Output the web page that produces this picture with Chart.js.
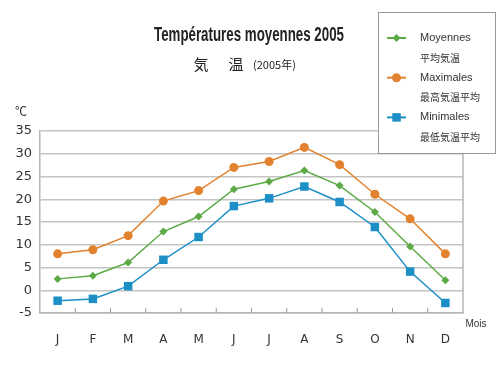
<!DOCTYPE html>
<html>
<head>
<meta charset="utf-8">
<script src="https://cdn.jsdelivr.net/npm/chart.js@4"></script>
<style>
  html, body { margin: 0; padding: 0; background: #fff; }
  #wrap { width: 500px; height: 368px; position: relative; }
</style>
</head>
<body>
<div id="wrap"><canvas id="tempChart"></canvas></div>
<script>
// données
const months = ["J", "F", "M", "A", "M", "J", "J", "A", "S", "O", "N", "D"];
const moyennes = [2.5, 3.2, 6.1, 12.9, 16.2, 22.2, 23.9, 26.3, 23.0, 17.2, 9.6, 2.2];
const maximales = [8.0, 8.9, 12.0, 19.6, 21.9, 27.0, 28.3, 31.4, 27.6, 21.1, 15.7, 8.0];
const minimales = [-2.3, -1.9, 0.9, 6.7, 11.7, 18.5, 20.2, 22.8, 19.4, 13.9, 4.1, -2.8];
const legendNames = [["Moyennes", "平均気温"], ["Maximales", "最高気温平均"], ["Minimales", "最低気温平均"]];

const GREEN = "#5caa46";
const ORANGE = "#e3822e";
const BLUE = "#1b8fc6";

// titres, légende, cadre
const decorPlugin = {
    id: "decor",
    afterDraw(chart) {
        const ctx = chart.ctx;
        const area = chart.chartArea;
        const x = chart.scales.x;
        ctx.save();

        // cadre droit + petits traits entre les mois
        ctx.strokeStyle = "#b5b5b5";
        ctx.lineWidth = 1.5;
        ctx.beginPath();
        ctx.moveTo(area.right, area.top);
        ctx.lineTo(area.right, area.bottom);
        ctx.stroke();
        ctx.lineWidth = 1;
        ctx.strokeStyle = "#999";
        for (let i = 0; i < months.length - 1; i++) {
            let px = (x.getPixelForValue(i) + x.getPixelForValue(i + 1)) / 2;
            ctx.beginPath();
            ctx.moveTo(px, area.bottom);
            ctx.lineTo(px, area.bottom - 5);
            ctx.stroke();
        }

        // titre
        ctx.fillStyle = "#222";
        ctx.textAlign = "center";
        ctx.textBaseline = "middle";
        ctx.font = "bold 20px 'Liberation Sans Narrow', 'Liberation Sans'";
        ctx.fillText("Températures moyennes 2005", 249, 35, 190);
        ctx.font = "15px 'Noto Sans CJK JP'";
        ctx.fillText("気", 201, 64);
        ctx.fillText("温", 236, 64);
        ctx.font = "11px 'Noto Sans CJK JP'";
        ctx.textAlign = "left";
        ctx.fillText("(2005年)", 253, 65);

        // unités
        ctx.fillStyle = "#333";
        ctx.font = "12px 'Noto Sans CJK JP'";
        ctx.textAlign = "center";
        ctx.fillText("℃", 21, 111);
        ctx.font = "10px 'Liberation Sans Narrow', 'Liberation Sans'";
        ctx.fillText("Mois", 476, 324);

        // légende
        ctx.fillStyle = "#fff";
        ctx.fillRect(378, 12, 117, 141);
        ctx.strokeStyle = "#999";
        ctx.lineWidth = 1;
        ctx.strokeRect(378.5, 12.5, 117, 141);
        chart.data.datasets.forEach((ds, i) => {
            let y = 38 + i * 39.7;
            ctx.strokeStyle = ds.borderColor;
            ctx.lineWidth = 2;
            ctx.beginPath();
            ctx.moveTo(387, y);
            ctx.lineTo(406, y);
            ctx.stroke();
            ctx.fillStyle = ds.pointBackgroundColor;
            Chart.helpers.drawPoint(ctx, {
                pointStyle: ds.pointStyle,
                radius: ds.pointRadius,
                borderWidth: 0,
                rotation: 0
            }, 396.5, y);
            ctx.fillStyle = "#333";
            ctx.textAlign = "left";
            ctx.font = "11px 'Liberation Sans Narrow', 'Liberation Sans'";
            ctx.fillText(legendNames[i][0], 420, y);
            ctx.font = "10px 'Noto Sans CJK JP'";
            ctx.fillText(legendNames[i][1], 420, y + 20);
        });
        ctx.restore();
    }
};

function makeSet(label, data, color, style, radius) {
    return {
        label: label,
        data: data,
        borderColor: color,
        backgroundColor: color,
        pointBackgroundColor: color,
        pointBorderColor: color,
        pointBorderWidth: 0,
        borderWidth: 1.5,
        pointStyle: style,
        pointRadius: radius,
        tension: 0
    };
}

new Chart(document.getElementById("tempChart"), {
    type: "line",
    data: {
        labels: months,
        datasets: [
            makeSet("Moyennes", moyennes, GREEN, "rectRot", 4),
            makeSet("Maximales", maximales, ORANGE, "circle", 4.5),
            makeSet("Minimales", minimales, BLUE, "rect", 6)
        ]
    },
    options: {
        responsive: true,
        maintainAspectRatio: false,
        animation: false,
        layout: { padding: { top: 131, right: 37, left: 0, bottom: 0 } },
        plugins: {
            legend: { display: false },
            tooltip: { enabled: false }
        },
        scales: {
            x: {
                offset: true,
                grid: { display: false },
                border: { display: true, color: "#b5b5b5", width: 1.5 },
                ticks: {
                    color: "#333",
                    font: { family: "'DejaVu Sans'", size: 12 },
                    padding: 12
                },
                afterFit(scale) { scale.height = 55; }
            },
            y: {
                min: -5,
                max: 35,
                ticks: {
                    stepSize: 5,
                    color: "#333",
                    font: { family: "'DejaVu Sans'", size: 13 },
                    padding: 8
                },
                grid: { color: "#c4c4c4", lineWidth: 1.5, drawTicks: false },
                border: { display: true, color: "#b5b5b5", width: 1.5 },
                afterFit(scale) { scale.width = 40; }
            }
        }
    },
    plugins: [decorPlugin]
});
</script>
</body>
</html>
